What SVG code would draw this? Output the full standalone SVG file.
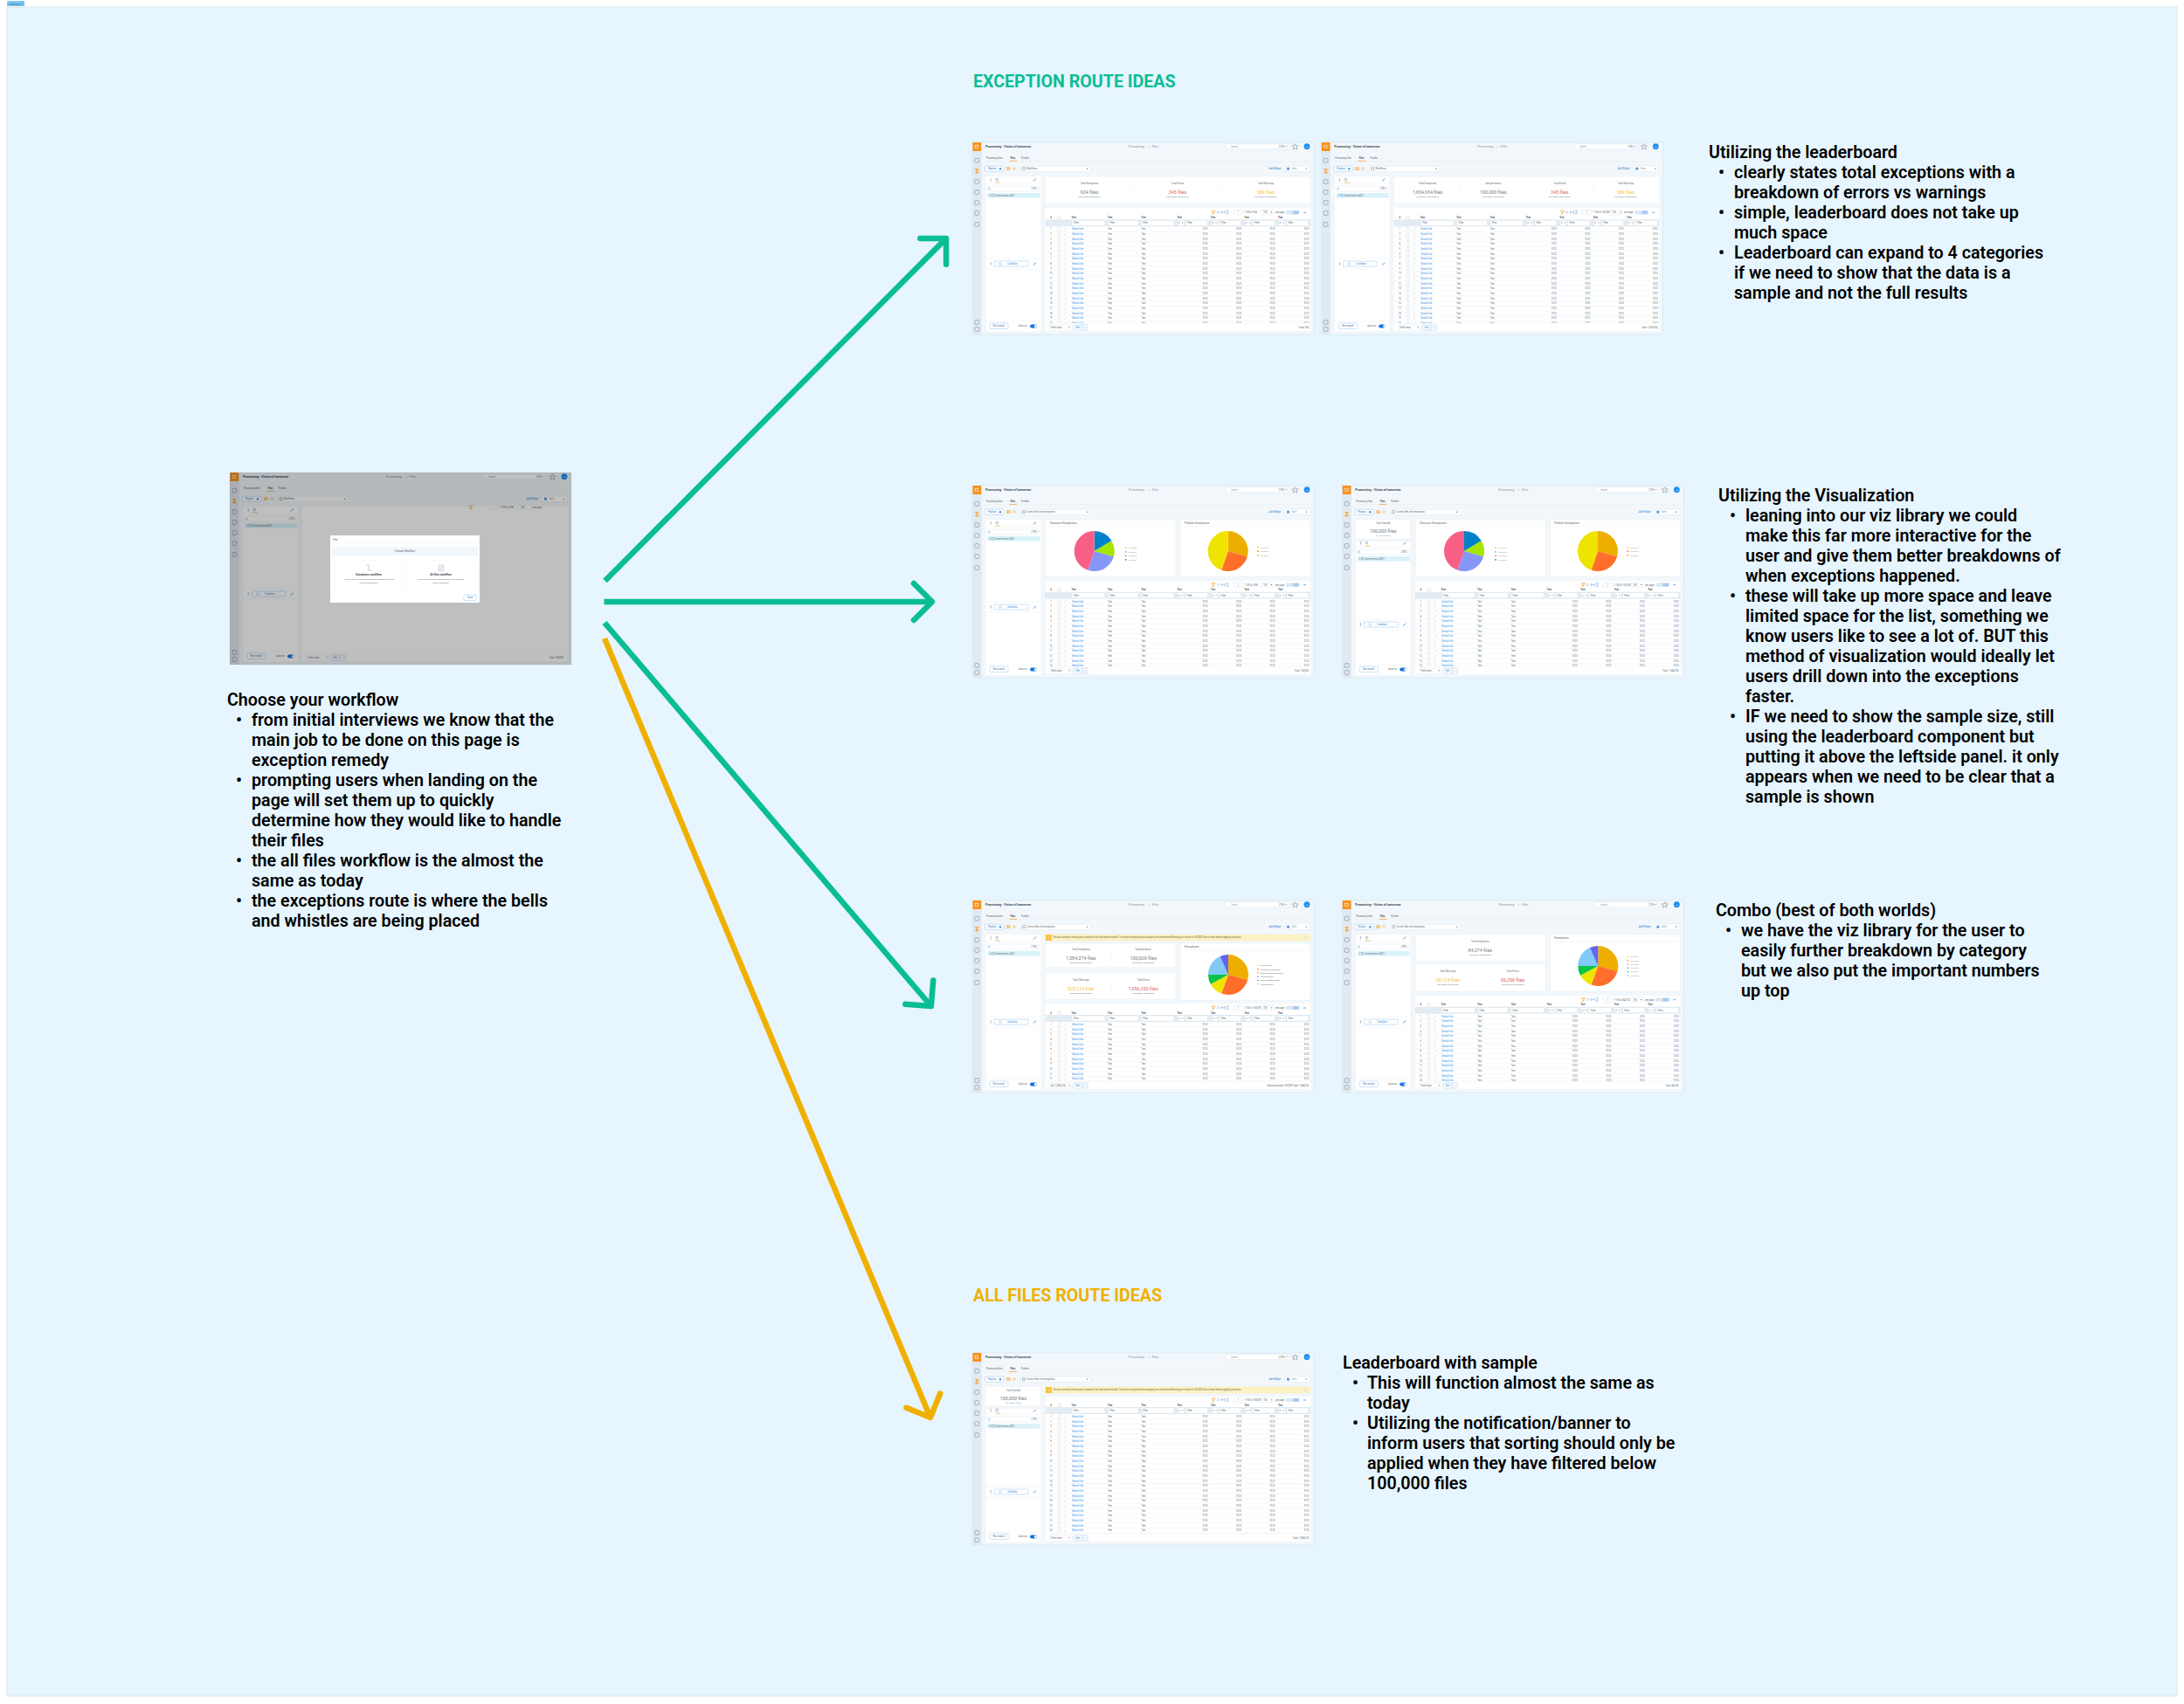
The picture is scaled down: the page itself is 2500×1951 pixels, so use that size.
<svg xmlns="http://www.w3.org/2000/svg" width="2500" height="1951" viewBox="0 0 2500 1951">
<style>
text{font-family:Roboto,"Liberation Sans",sans-serif}
.note{font-size:19.7px;font-weight:600;fill:#000}
.hd{font-size:19.6px;font-weight:700}
.ln{fill:none;stroke-width:6.5}
.g{stroke:#0bbd94}.y{stroke:#f0b000}
.hg{fill:none;stroke:#0bbd94;stroke-width:6.5;stroke-linecap:round;stroke-linejoin:round}
.hy{fill:none;stroke:#f0b000;stroke-width:6.5;stroke-linecap:round;stroke-linejoin:round}
.w{fill:#fff}
.card{fill:#fff;stroke:#e6edf3;stroke-width:.5}
.inp{fill:#fff;stroke:#d3dee7;stroke-width:.4}
.btn{fill:#fff;stroke:#a8d0f0;stroke-width:.6}
.sep{stroke:#e4ebf1;stroke-width:.4;fill:none}
.ic{fill:none;stroke:#8b9aa8;stroke-width:.7}
.t{font-size:2.6px;fill:#5c6770}
.tb{font-size:2.6px;fill:#3f4a54;font-weight:700}
.l{font-size:2.6px;fill:#2b8fe8}
.bl{font-size:2.7px;fill:#2b7fd0}
.title{font-size:3.6px;font-weight:700;fill:#3c4650}
.crumb{font-size:3.6px;fill:#8b96a0}
.m{text-anchor:middle}
.e{text-anchor:end}
.st{font-size:2.8px;fill:#68737d;text-anchor:middle}
.num{font-size:5.4px;text-anchor:middle;fill:#737c84}
.red{fill:#dc5f63}.yel{fill:#fbc63c}
.sub{font-size:2.5px;fill:#68737d;text-anchor:middle}
.ct{font-size:3.4px;fill:#5e6872}
.lg{font-size:2.5px;fill:#5e6872}
.bn{font-size:2.55px;fill:#6a6436}
</style>
<defs>
<marker id="mg" markerUnits="userSpaceOnUse" markerWidth="60" markerHeight="60" refX="28" refY="30" orient="auto"><path class="hg" d="M9,9L30,30L9,51"/></marker>
<marker id="my" markerUnits="userSpaceOnUse" markerWidth="60" markerHeight="60" refX="28" refY="30" orient="auto"><path class="hy" d="M9,9L30,30L9,51"/></marker>
<clipPath id="tc"><rect x="83" y="0" width="305" height="207"/></clipPath>
<rect id="ri" x="-2.4" y="-2.4" width="4.8" height="4.8" rx="1" class="ic"/>
<g id="chrome">
<rect x="0" y="0" width="391" height="220" fill="#f2f7fb" stroke="#d4e3ee" stroke-width=".6"/>
<rect x="0" y="0" width="10.7" height="220" fill="#e1e9f1"/>
<rect x="0.5" y="0" width="9.7" height="10" fill="#f7931e"/>
<rect x="3.5" y="3.2" width="3.2" height="3.2" fill="none" stroke="#fff" stroke-width=".6"/>
<use href="#ri" x="5.3" y="20.7"/>
<path d="M3.3,30.5H7.3L5.3,32.7L7.3,35H3.3L5.3,32.7Z" fill="#f7b24d" stroke="#f7931e" stroke-width=".5"/>
<use href="#ri" x="5.3" y="45"/><use href="#ri" x="5.3" y="57"/><use href="#ri" x="5.3" y="69"/><use href="#ri" x="5.3" y="81"/><use href="#ri" x="5.3" y="94"/><use href="#ri" x="5.3" y="206"/><use href="#ri" x="5.3" y="214"/>
<text class="title" x="15" y="6.3">Processing - Vision of tomorrow</text>
<text class="crumb" x="179" y="6.3">Processing</text><text class="crumb" x="201" y="6.3">&gt;</text><text class="crumb" x="205.5" y="6.3">Files</text>
<rect class="inp" x="290" y="1.8" width="73" height="6" rx="1"/>
<text class="t" x="296" y="5.7" fill-opacity=".7">Search...</text><text class="t e" x="361" y="5.7">CTRL + /</text>
<path class="ic" d="M369.5,1.7L370.6,4H373L371.1,5.6L371.8,8L369.5,6.6L367.2,8L367.9,5.6L366,4H368.4Z"/>
<circle cx="383" cy="4.7" r="3.4" fill="#1f90f0"/><text class="m" x="383" y="5.6" font-size="2.2" fill="#fff">US</text>
<text class="t" x="16" y="19.3">Processing Sets</text><text class="tb" x="43.5" y="19.3">Files</text><text class="t" x="56" y="19.3">Profiles</text>
<path d="M15,21.8H386" class="sep"/><path d="M42.5,21.4H51" stroke="#f2a33a" stroke-width=".8"/>
<rect class="btn" x="14.5" y="27.2" width="21.5" height="6" rx="1"/><text class="bl" x="18" y="31.1">Replace</text><circle cx="32" cy="30.2" r="1.2" fill="#4a90d9"/>
<rect x="39.5" y="28.6" width="3.6" height="3.2" fill="#f9cf94" stroke="#f2a33a" stroke-width=".4"/><circle cx="48" cy="30" r="1.3" fill="none" stroke="#f2a33a" stroke-width=".5"/>
<rect class="inp" x="55.3" y="27.2" width="80" height="6.2" rx="1"/><rect class="ic" x="57.5" y="28.8" width="2.8" height="2.8"/><path d="M130.5,29.7h2l-1,1.2z" fill="#566"/>
<text class="bl" x="339.5" y="31.1">Add Widget</text>
<rect class="inp" x="358" y="27" width="28.5" height="6.5" rx="1"/><rect x="360" y="28.7" width="3" height="3" fill="#5a9ee0"/><text class="t" x="365" y="31.1" fill-opacity=".7">Table</text><path d="M381.5,29.7h2l-1,1.2z" fill="#566"/>
</g>
<g id="lptop">
<rect x="20.7" y="41" width=".9" height="3.6" fill="#a5b0ba"/><circle cx="28.2" cy="42.5" r="1.3" class="ic"/><path d="M26.5,46H32.5" stroke="#f2a33a" stroke-width=".7"/><path d="M70,44.5L72.8,41.7" stroke="#4a90d9" stroke-width="1"/>
<path d="M15,47H79" class="sep"/>
<rect class="inp" x="17" y="50" width="60" height="6" rx="1"/><circle cx="19.5" cy="53" r="1" fill="none" stroke="#4a90d9" stroke-width=".4"/><text class="t" x="75.5" y="53.9" text-anchor="end">CTRL /</text>
<rect x="17.5" y="58" width="60" height="5.5" fill="#d9f2f9"/><path d="M19.5,60l1.2,.8l-1.2,.8z" fill="#567"/><rect x="22" y="59.5" width="2.4" height="2.4" fill="none" stroke="#4a90d9" stroke-width=".4"/><text class="t" x="25.5" y="61.7">Current errors (407)</text>
</g>
<g id="lpcond">
<path d="M15,133H79" class="sep"/><rect x="20.7" y="137" width=".9" height="3.6" fill="#a5b0ba"/>
<rect class="btn" x="25" y="136" width="39" height="6" rx=".6"/><circle cx="32" cy="139" r="1.4" fill="none" stroke="#8fb9de" stroke-width=".5"/><text class="bl m" x="46" y="140">Condition</text><path d="M70,140.5L72.8,137.7" stroke="#4a90d9" stroke-width="1"/>
<path d="M15,145H79" class="sep"/>
</g>
<g id="lpbot">
<path d="M15,205H79" class="sep"/><rect class="btn" x="20" y="207" width="21" height="6.5" rx=".8"/><text class="bl m" x="30.5" y="211.2" style="fill:#3f6f9f">Run search</text><text class="t" x="53" y="211.2">Auto-run</text><rect x="66" y="208.4" width="8" height="4" rx="2" fill="#1273de"/><circle cx="72.4" cy="210.4" r="1.5" fill="#fff"/>
</g>
<g id="lp"><rect class="card" x="15" y="38.5" width="64" height="178.5" rx="1"/><use href="#lptop"/><use href="#lpcond"/><use href="#lpbot"/></g>
<g id="lps">
<rect class="card" x="15" y="38.5" width="63.5" height="22.5" rx="1"/><text class="st" x="47" y="43.8">Total Sample</text><text class="num" x="47" y="54">100,000 files</text><text class="sub" x="47" y="58" style="font-size:2.2px">of 1,584,374 files</text>
<rect class="card" x="15" y="63.5" width="64" height="153.5" rx="1"/><use href="#lptop" y="23"/><use href="#lpcond" y="20"/><use href="#lpbot"/>
</g>
<g id="thead">
<path class="ic" style="stroke:#f2a33a" d="M274,-21H278L276.6,-19V-17.5L275.4,-17V-19Z"/><circle cx="281" cy="-19.3" r="1.2" class="ic" style="stroke:#bcc6cf"/><path d="M285,-21V-17.5M289,-21V-17.5M285,-19.3H289M290.5,-21H293.5M292,-21V-17.5M290.5,-17.5H293.5" stroke="#5a9ee0" stroke-width=".5" fill="none"/>
<rect class="inp" x="299" y="-21.7" width="10" height="5.2" rx=".6"/><text class="t m" x="304" y="-18.2">1</text>
<rect class="inp" x="330" y="-21.7" width="15" height="5.2" rx=".6"/><text class="t" x="333" y="-18.2">100</text><path d="M341.5,-19.6h2l-1,1.2z" fill="#566"/>
<text class="t" x="347" y="-18.2">per page</text><rect x="359" y="-21.3" width="15" height="4.4" rx=".6" fill="#dbe8f3"/><rect x="367" y="-21" width="7" height="3.8" fill="#a9cdf0"/><path d="M379,-19H382" stroke="#6fa8dc" stroke-width="1"/>
<text class="tb m" x="90" y="-12.4">#</text><rect x="97.7" y="-15" width="3.4" height="3.4" rx=".4" fill="#fff" stroke="#bcc6cf" stroke-width=".4"/>
<text class="tb" x="113.5" y="-12.4">Text</text><text class="tb" x="155" y="-12.4">Text</text><text class="tb" x="193.5" y="-12.4">Text</text><text class="tb" x="234.5" y="-12.4">Text</text><text class="tb" x="273" y="-12.4">Text</text><text class="tb" x="311.5" y="-12.4">Text</text><text class="tb" x="350" y="-12.4">Text</text>
<rect x="83.5" y="-11" width="303.5" height="8" fill="#e3ebf3"/>
<g id="tf"><rect class="inp" x="114" y="-10" width="37.7" height="6"/><text class="t" x="116" y="-6.1">Filter</text><rect class="inp" x="155.3" y="-10" width="34.7" height="6"/><text class="t" x="157.3" y="-6.1">Filter</text><rect class="inp" x="193.3" y="-10" width="37.7" height="6"/><text class="t" x="195.3" y="-6.1">Filter</text></g>
<g id="fc"><rect class="inp" x="235" y="-10" width="7.7" height="6"/><text class="t" x="236" y="-6.1">=</text><path d="M239.8,-7.5h1.6l-.8,1z" fill="#566"/><rect class="inp" x="244" y="-10" width="25.3" height="6"/><text class="t" x="246" y="-6.1">Filter</text></g>
<use href="#fc" x="38.5"/><use href="#fc" x="77"/><use href="#fc" x="115.5"/>
</g>
<g id="r">
<rect x="97.7" y="-1.7" width="3.4" height="3.4" rx=".4" fill="#fff" stroke="#c8d1d9" stroke-width=".4"/><path d="M105,1.6L108,-1.4" stroke="#b5c0c9" stroke-width=".5"/>
<text class="l" x="114" y=".9">Default link</text><text class="t" x="155" y=".9">Text</text><text class="t" x="193.5" y=".9">Text</text>
<text class="t e" x="269.5" y=".9">0123</text><text class="t e" x="308" y=".9">0123</text><text class="t e" x="346.5" y=".9">0123</text><text class="t e" x="385.5" y=".9">0123</text>
<path class="sep" d="M84,2.8H387"/>
</g>
<g id="rows">
<use href="#r" y="0"/><text class="t m" x="90" y=".9">1</text>
<use href="#r" y="5.67"/><text class="t m" x="90" y="6.57">2</text>
<use href="#r" y="11.34"/><text class="t m" x="90" y="12.24">3</text>
<use href="#r" y="17.01"/><text class="t m" x="90" y="17.91">4</text>
<use href="#r" y="22.68"/><text class="t m" x="90" y="23.58">5</text>
<use href="#r" y="28.35"/><text class="t m" x="90" y="29.25">6</text>
<use href="#r" y="34.02"/><text class="t m" x="90" y="34.92">7</text>
<use href="#r" y="39.69"/><text class="t m" x="90" y="40.59">8</text>
<use href="#r" y="45.36"/><text class="t m" x="90" y="46.26">9</text>
<use href="#r" y="51.03"/><text class="t m" x="90" y="51.93">10</text>
<use href="#r" y="56.7"/><text class="t m" x="90" y="57.6">11</text>
<use href="#r" y="62.37"/><text class="t m" x="90" y="63.27">12</text>
<use href="#r" y="68.04"/><text class="t m" x="90" y="68.94">13</text>
<use href="#r" y="73.71"/><text class="t m" x="90" y="74.61">14</text>
<use href="#r" y="79.38"/><text class="t m" x="90" y="80.28">15</text>
<use href="#r" y="85.05"/><text class="t m" x="90" y="85.95">16</text>
<use href="#r" y="90.72"/><text class="t m" x="90" y="91.62">17</text>
<use href="#r" y="96.39"/><text class="t m" x="90" y="97.29">18</text>
<use href="#r" y="102.06"/><text class="t m" x="90" y="102.96">19</text>
<use href="#r" y="107.73"/><text class="t m" x="90" y="108.63">20</text>
<use href="#r" y="113.4"/><text class="t m" x="90" y="114.3">21</text>
<use href="#r" y="119.07"/><text class="t m" x="90" y="119.97">22</text>
<use href="#r" y="124.74"/><text class="t m" x="90" y="125.64">23</text>
<use href="#r" y="130.41"/><text class="t m" x="90" y="131.31">24</text>
</g>
<g id="bar">
<rect x="83.5" y="207" width="303.5" height="9" class="w"/><path class="sep" d="M83.5,207H387"/>
<rect class="inp" x="88" y="209" width="26" height="6" rx="1"/><path d="M110,211.4h2l-1,1.2z" fill="#566"/>
<rect class="btn" x="116" y="209" width="9.7" height="6" rx=".6"/><text class="bl m" x="120.8" y="212.9">Edit</text><rect class="btn" x="125.7" y="209" width="6.3" height="6" rx=".6"/><path d="M127.8,211.5l1,1l1,-1" class="ic" style="stroke:#6fa8dc"/>
</g>
<g id="p2">
<path d="M0,0L0,-23A23,23 0 0 1 19.7,-11.85Z" fill="#0082ca"/><path d="M0,0L19.7,-11.85A23,23 0 0 1 22.1,6.34Z" fill="#a6e500"/><path d="M0,0L22.1,6.34A23,23 0 0 1 -7.49,21.75Z" fill="#8696f8"/><path d="M0,0L-7.49,21.75A23,23 0 0 1 0,-23Z" fill="#f75f85"/>
</g>
<g id="p3">
<path d="M0,0L0,-23A23,23 0 0 1 22.1,6.34Z" fill="#eeae00"/><path d="M0,0L22.1,6.34A23,23 0 0 1 -7.49,21.75Z" fill="#ff6f2b"/><path d="M0,0L-7.49,21.75A23,23 0 0 1 0,-23Z" fill="#efe300"/>
</g>
<g id="p6">
<path d="M0,0L0,-23A23,23 0 0 1 22.2,5.95Z" fill="#eeae00"/><path d="M0,0L22.2,5.95A23,23 0 0 1 -7.87,21.6Z" fill="#ff6f2b"/><path d="M0,0L-7.87,21.6A23,23 0 0 1 -20.3,10.8Z" fill="#efe300"/><path d="M0,0L-20.3,10.8A23,23 0 0 1 -23,0Z" fill="#0bc44a"/><path d="M0,0L-23,0A23,23 0 0 1 -9.35,-21Z" fill="#80c9f9"/><path d="M0,0L-9.35,-21A23,23 0 0 1 0,-23Z" fill="#6264f0"/>
</g>
<g id="twopies">
<rect class="card" x="84" y="39" width="149" height="65" rx=".8"/><text class="ct" x="89" y="44">Discover Exceptions</text><path class="sep" d="M84,47H233"/>
<rect class="card" x="238" y="39" width="149" height="65" rx=".8"/><text class="ct" x="243" y="44">Publish Exceptions</text><path class="sep" d="M238,47H387"/>
<use href="#p2" x="139.7" y="75"/><use href="#p3" x="292.7" y="75"/>
<circle cx="175.7" cy="71.3" r=".9" fill="#a6e500"/><text class="lg" x="179" y="72.2">XXXXXX</text>
<circle cx="175.7" cy="75.8" r=".9" fill="#8696f8"/><text class="lg" x="179" y="76.7">XXXXXX</text>
<circle cx="175.7" cy="80.3" r=".9" fill="#f75f85"/><text class="lg" x="179" y="81.2">XXXXXX</text>
<circle cx="175.7" cy="84.8" r=".9" fill="#0082ca"/><text class="lg" x="179" y="85.7">XXXXXX</text>
<circle cx="327" cy="70.7" r=".9" fill="#efe300"/><text class="lg" x="330" y="71.6">XXXXXX</text>
<circle cx="327" cy="75.2" r=".9" fill="#ff6f2b"/><text class="lg" x="330" y="76.1">XXXXXX</text>
<circle cx="327" cy="79.7" r=".9" fill="#eeae00"/><text class="lg" x="330" y="80.6">XXXXXX</text>
</g>
<g id="banner">
<rect x="84" y="39" width="303" height="7" fill="#fdf2c4" stroke="#f6e39a" stroke-width=".3"/><rect x="84" y="39" width="7" height="7" fill="#f9c440"/><text x="87.5" y="43.6" class="m" font-size="3" fill="#fff">!</text>
<text class="bn" x="92.7" y="43.4">You are currently viewing only a sample of the total search results. To ensure sorting functions properly, we recommend filtering your results to 100,000 files or fewer before applying any sorts.</text>
<path d="M380,41L383,44M383,41L380,44" stroke="#9db" stroke-width=".5"/>
</g>
</defs>

<rect id="canvas" x="8" y="8" width="2484" height="1934" fill="#e6f5fe" stroke="#dde6eb" stroke-width="1"/>
<g id="section-label"><rect x="8" y="1" width="20" height="6" fill="#7cc8f0"/><text x="10" y="5.5" font-size="4" fill="#2d6f96">Section 1</text></g>

<g id="connectors">
<path class="ln g" d="M692.5,665L1081.6,274.4" marker-end="url(#mg)"/>
<path class="ln g" d="M691.5,689H1065" marker-end="url(#mg)"/>
<path class="ln g" d="M692,713L1064.6,1150.5" marker-end="url(#mg)"/>
<path class="ln y" d="M692,731L1064.2,1621.2" marker-end="url(#my)"/>
</g>

<g id="heading-exception"><text class="hd" x="1114" y="100" fill="#0bbd94">EXCEPTION ROUTE IDEAS</text></g>
<g id="heading-allfiles"><text class="hd" x="1114" y="1490" fill="#f0b000">ALL FILES ROUTE IDEAS</text></g>

<g id="screen-modal" transform="translate(263,541)">
<use href="#chrome"/><text class="t" x="62" y="31.1">Workflows</text><use href="#lp"/>
<rect class="w" x="83" y="39" width="304" height="168"/><use href="#bar"/>
<path class="ic" style="stroke:#f2a33a" d="M274,38H278L276.6,40V41.5L275.4,42V40Z"/>
<rect class="inp" x="297" y="37" width="10" height="5.2" rx=".6"/><text class="t" x="309" y="40.5">1-100 of 2000</text><rect class="inp" x="330" y="37" width="15" height="5.2" rx=".6"/><text class="t" x="333" y="40.5">100</text><text class="t" x="347" y="40.5">per page</text>
<text class="t e" x="382" y="212.9">Total: 100,000</text><text class="t" x="90" y="212.9">Field value</text>
<rect x="0" y="0" width="391" height="220" fill="#000" fill-opacity=".25"/>
<rect class="w" x="115" y="72" width="171" height="77"/>
<text class="t" x="118" y="77.5" style="font-size:2.8px">Files</text><path class="sep" d="M115,81H286"/>
<rect x="117" y="85" width="167" height="10" fill="#f1f6fa"/><text class="t m" x="200.5" y="91.2" style="font-size:3px">Choose Workflow</text>
<rect x="120.7" y="100.7" width="77" height="32.3" fill="#fff" stroke="#eef2f6" stroke-width=".4"/><rect x="202.7" y="100.7" width="77.3" height="32.3" fill="#fff" stroke="#eef2f6" stroke-width=".4"/>
<path class="ic" style="stroke:#a9bccd" d="M156,106h3v6h3"/><rect x="239" y="106" width="6" height="6.5" fill="#e6ecf2" stroke="#b9c6d2" stroke-width=".5"/>
<text class="tb m" x="159" y="117.6" style="font-size:3.2px">Exceptions workflow</text><text class="t m" x="159" y="123" style="font-size:2.4px">I would like to review and address the exceptions from</text><text class="t m" x="159" y="127" style="font-size:2.4px">the processing sets</text>
<text class="tb m" x="241.5" y="117.6" style="font-size:3.2px">All files workflow</text><text class="t m" x="241.5" y="123" style="font-size:2.4px">I am gaining a better understanding of all the data</text><text class="t m" x="241.5" y="127" style="font-size:2.4px">before publishing</text>
<rect class="btn" x="268" y="140" width="14" height="6.7" rx=".6"/><text class="bl m" x="275" y="144.3">Close</text>
</g>

<g id="screen-a1" transform="translate(1113,163)">
<use href="#chrome"/><text class="t" x="62" y="31.1">Workflows</text><use href="#lp"/>
<rect class="card" x="83.5" y="39" width="303.5" height="31"/>
<text class="st" x="134" y="48.3">Total Exceptions</text><text class="num" x="134" y="59.2">934 files</text><text class="sub" x="134" y="63.2">Secondary information</text>
<text class="st" x="235" y="48.3">Total Errors</text><text class="num red" x="235" y="59.2">345 files</text><text class="sub" x="235" y="63.2">Secondary information</text>
<text class="st" x="336" y="48.3">Total Warnings</text><text class="num yel" x="336" y="59.2">589 files</text><text class="sub" x="336" y="63.2">Secondary information</text>
<path class="sep" d="M185,50V60M286,50V60"/>
<rect class="w" x="83.5" y="75" width="303.5" height="141"/><use href="#thead" y="99.3"/><g clip-path="url(#tc)"><use href="#rows" y="99.3"/></g><use href="#bar"/>
<text class="t" x="311" y="81">1-100 of 934</text><text class="t" x="90" y="212.9">Field value</text><text class="t e" x="385" y="212.9">Total: 934</text>
</g>

<g id="screen-a2" transform="translate(1512.3,163)">
<use href="#chrome"/><text class="t" x="62" y="31.1">Workflows</text><use href="#lp"/>
<rect class="card" x="83.5" y="39" width="303.5" height="31"/>
<text class="st" x="121.7" y="48.3">Total Exceptions</text><text class="num" x="121.7" y="59.2">1,954,934 files</text><text class="sub" x="121.7" y="63.2">Secondary information</text>
<text class="st" x="197" y="48.3">Sample shown</text><text class="num" x="197" y="59.2">100,000 files</text><text class="sub" x="197" y="63.2">Secondary information</text>
<text class="st" x="273" y="48.3">Total Errors</text><text class="num red" x="273" y="59.2">345 files</text><text class="sub" x="273" y="63.2">Secondary information</text>
<text class="st" x="348.7" y="48.3">Total Warnings</text><text class="num yel" x="348.7" y="59.2">589 files</text><text class="sub" x="348.7" y="63.2">Secondary information</text>
<path class="sep" d="M159,50V60M235,50V60M311,50V60"/>
<rect class="w" x="83.5" y="75" width="303.5" height="141"/><use href="#thead" y="99.3"/><g clip-path="url(#tc)"><use href="#rows" y="99.3"/></g><use href="#bar"/>
<text class="t" x="311" y="81">1-100 of 100,000</text><text class="t" x="90" y="212.9">Field value</text><text class="t e" x="385" y="212.9">Total: 1,954,934</text>
</g>

<g id="screen-b1" transform="translate(1113,556)">
<use href="#chrome"/><text class="t" x="62" y="31.1">Current files with exceptions</text><use href="#lp"/>
<use href="#twopies"/>
<rect class="w" x="84" y="109" width="303" height="107"/><use href="#thead" y="132.7"/><g clip-path="url(#tc)"><use href="#rows" y="132.7"/></g><use href="#bar"/>
<text class="t" x="311" y="114.5">1-100 of 2000</text><text class="t" x="90" y="212.9">Field value</text><text class="t e" x="385" y="212.9">Total: 100,000</text>
</g>

<g id="screen-b2" transform="translate(1536.3,556)">
<use href="#chrome"/><text class="t" x="62" y="31.1">Current files with exceptions</text><use href="#lps"/>
<use href="#twopies"/>
<rect class="w" x="84" y="109" width="303" height="107"/><use href="#thead" y="132.7"/><g clip-path="url(#tc)"><use href="#rows" y="132.7"/></g><use href="#bar"/>
<text class="t" x="311" y="114.5">1-100 of 100,000</text><text class="t" x="90" y="212.9">Field value</text><text class="t e" x="385" y="212.9">Total: 1,584,374</text>
</g>

<g id="screen-c1" transform="translate(1113,1031)">
<use href="#chrome"/><text class="t" x="62" y="31.1">Current files with exceptions</text><use href="#lp"/>
<use href="#banner"/>
<rect class="card" x="84" y="49" width="149" height="28" rx=".8"/><rect class="card" x="84" y="83" width="149" height="30" rx=".8"/><rect class="card" x="238" y="49" width="149" height="65" rx=".8"/>
<text class="st" x="124.3" y="56.6">Total Exceptions</text><text class="num" x="124.3" y="68">1,584,374 files</text><text class="sub" x="124.3" y="71.6">Secondary information</text>
<text class="st" x="195.7" y="56.6">Sample shown</text><text class="num" x="195.7" y="68">100,000 files</text><text class="sub" x="195.7" y="71.6">Secondary information</text>
<text class="st" x="124.3" y="91.6">Total Warnings</text><text class="num yel" x="124.3" y="103">528,124 files</text><text class="sub" x="124.3" y="106.6">Secondary information</text>
<text class="st" x="195.7" y="91.6">Total Errors</text><text class="num red" x="195.7" y="103">1,056,250 files</text><text class="sub" x="195.7" y="106.6">Secondary information</text>
<path class="sep" d="M159,60V70M159,94V104"/>
<text class="ct" x="243" y="54.2">Exceptions</text><path class="sep" d="M238,57H387"/><use href="#p6" x="293" y="85"/>
<circle cx="327" cy="74.3" r=".8" fill="#efe300"/><text class="lg" x="330" y="75.2">Corrupt File</text>
<circle cx="327" cy="78.6" r=".8" fill="#ff6f2b"/><text class="lg" x="330" y="79.5">Password Protected</text>
<circle cx="327" cy="82.9" r=".8" fill="#eeae00"/><text class="lg" x="330" y="83.8">Missing Extracted Text</text>
<circle cx="327" cy="87.2" r=".8" fill="#6264f0"/><text class="lg" x="330" y="88.1">Unsupported</text>
<circle cx="327" cy="91.5" r=".8" fill="#0bc44a"/><text class="lg" x="330" y="92.4">Missing Attachment</text>
<circle cx="327" cy="95.8" r=".8" fill="#80c9f9"/><text class="lg" x="330" y="96.7">Unsupported</text>
<rect class="w" x="84" y="118" width="303" height="98"/><use href="#thead" y="142"/><g clip-path="url(#tc)"><use href="#rows" y="142"/></g><use href="#bar"/>
<text class="t" x="311" y="123.8">1-100 of 100,000</text><text class="t" x="90" y="212.9">All (1,584,374)</text><text class="t e" x="385" y="212.9">Viewing sample: 100,000   Total: 1,584,374</text>
</g>

<g id="screen-c2" transform="translate(1536.3,1031)">
<use href="#chrome"/><text class="t" x="62" y="31.1">Current files with exceptions</text><use href="#lp"/>
<rect class="card" x="84" y="39" width="149" height="31" rx=".8"/><rect class="card" x="84" y="73" width="149" height="31" rx=".8"/><rect class="card" x="238" y="39" width="149" height="65" rx=".8"/>
<text class="st" x="158" y="48">Total Exceptions</text><text class="num" x="158" y="59.2">84,374 files</text><text class="sub" x="158" y="63">Secondary information</text>
<text class="st" x="121" y="82">Total Warnings</text><text class="num yel" x="121" y="93.2">28,124 files</text><text class="sub" x="121" y="97">Secondary information</text>
<text class="st" x="195.3" y="82">Total Errors</text><text class="num red" x="195.3" y="93.2">56,250 files</text><text class="sub" x="195.3" y="97">Secondary information</text>
<path class="sep" d="M158,84V94"/>
<text class="ct" x="243" y="44">Exceptions</text><path class="sep" d="M238,47H387"/><use href="#p6" x="293" y="75"/>
<circle cx="327" cy="64.3" r=".8" fill="#efe300"/><text class="lg" x="330" y="65.2">XXXXXX</text>
<circle cx="327" cy="68.6" r=".8" fill="#ff6f2b"/><text class="lg" x="330" y="69.5">XXXXXX</text>
<circle cx="327" cy="72.9" r=".8" fill="#eeae00"/><text class="lg" x="330" y="73.8">XXXXXX</text>
<circle cx="327" cy="77.2" r=".8" fill="#6264f0"/><text class="lg" x="330" y="78.1">XXXXXX</text>
<circle cx="327" cy="81.5" r=".8" fill="#0bc44a"/><text class="lg" x="330" y="82.4">XXXXXX</text>
<circle cx="327" cy="85.8" r=".8" fill="#80c9f9"/><text class="lg" x="330" y="86.7">XXXXXX</text>
<rect class="w" x="84" y="109" width="303" height="107"/><use href="#thead" y="132.7"/><g clip-path="url(#tc)"><use href="#rows" y="132.7"/></g><use href="#bar"/>
<text class="t" x="311" y="114.5">1-100 of 84,374</text><text class="t" x="90" y="212.9">Field value</text><text class="t e" x="385" y="212.9">Total: 84,374</text>
</g>

<g id="screen-d" transform="translate(1113,1549)">
<use href="#chrome"/><text class="t" x="62" y="31.1">Current files with exceptions</text><use href="#lps"/>
<use href="#banner"/>
<rect class="w" x="84" y="50" width="303" height="166"/><use href="#thead" y="73"/><g clip-path="url(#tc)"><use href="#rows" y="73"/></g><use href="#bar"/>
<text class="t" x="311" y="54.8">1-100 of 100,000</text><text class="t" x="90" y="212.9">Field value</text><text class="t e" x="385" y="212.9">Total: 1,584,374</text>
</g>

<g id="note-workflow" class="note">
<text x="260" y="808">Choose your workflow</text>
<text x="270" y="831">•</text><text x="288" y="831">from initial interviews we know that the</text>
<text x="288" y="854">main job to be done on this page is</text>
<text x="288" y="877">exception remedy</text>
<text x="270" y="900">•</text><text x="288" y="900">prompting users when landing on the</text>
<text x="288" y="923">page will set them up to quickly</text>
<text x="288" y="946">determine how they would like to handle</text>
<text x="288" y="969">their files</text>
<text x="270" y="992">•</text><text x="288" y="992">the all files workflow is the almost the</text>
<text x="288" y="1015">same as today</text>
<text x="270" y="1038">•</text><text x="288" y="1038">the exceptions route is where the bells</text>
<text x="288" y="1061">and whistles are being placed</text>
</g>
<g id="note-leaderboard" class="note">
<text x="1956" y="181">Utilizing the leaderboard</text>
<text x="1967" y="204">•</text><text x="1985" y="204">clearly states total exceptions with a</text>
<text x="1985" y="227">breakdown of errors vs warnings</text>
<text x="1967" y="250">•</text><text x="1985" y="250">simple, leaderboard does not take up</text>
<text x="1985" y="273">much space</text>
<text x="1967" y="296">•</text><text x="1985" y="296">Leaderboard can expand to 4 categories</text>
<text x="1985" y="319">if we need to show that the data is a</text>
<text x="1985" y="342">sample and not the full results</text>
</g>
<g id="note-visualization" class="note">
<text x="1967" y="574">Utilizing the Visualization</text>
<text x="1980" y="597">•</text><text x="1998" y="597">leaning into our viz library we could</text>
<text x="1998" y="620">make this far more interactive for the</text>
<text x="1998" y="643">user and give them better breakdowns of</text>
<text x="1998" y="666">when exceptions happened.</text>
<text x="1980" y="689">•</text><text x="1998" y="689">these will take up more space and leave</text>
<text x="1998" y="712">limited space for the list, something we</text>
<text x="1998" y="735">know users like to see a lot of. BUT this</text>
<text x="1998" y="758">method of visualization would ideally let</text>
<text x="1998" y="781">users drill down into the exceptions</text>
<text x="1998" y="804">faster.</text>
<text x="1980" y="827">•</text><text x="1998" y="827">IF we need to show the sample size, still</text>
<text x="1998" y="850">using the leaderboard component but</text>
<text x="1998" y="873">putting it above the leftside panel. it only</text>
<text x="1998" y="896">appears when we need to be clear that a</text>
<text x="1998" y="919">sample is shown</text>
</g>
<g id="note-combo" class="note">
<text x="1964" y="1049">Combo (best of both worlds)</text>
<text x="1975" y="1072">•</text><text x="1993" y="1072">we have the viz library for the user to</text>
<text x="1993" y="1095">easily further breakdown by category</text>
<text x="1993" y="1118">but we also put the important numbers</text>
<text x="1993" y="1141">up top</text>
</g>
<g id="note-sample" class="note">
<text x="1537" y="1567">Leaderboard with sample</text>
<text x="1548" y="1590">•</text><text x="1565" y="1590">This will function almost the same as</text>
<text x="1565" y="1613">today</text>
<text x="1548" y="1636">•</text><text x="1565" y="1636">Utilizing the notification/banner to</text>
<text x="1565" y="1659">inform users that sorting should only be</text>
<text x="1565" y="1682">applied when they have filtered below</text>
<text x="1565" y="1705">100,000 files</text>
</g>
</svg>
